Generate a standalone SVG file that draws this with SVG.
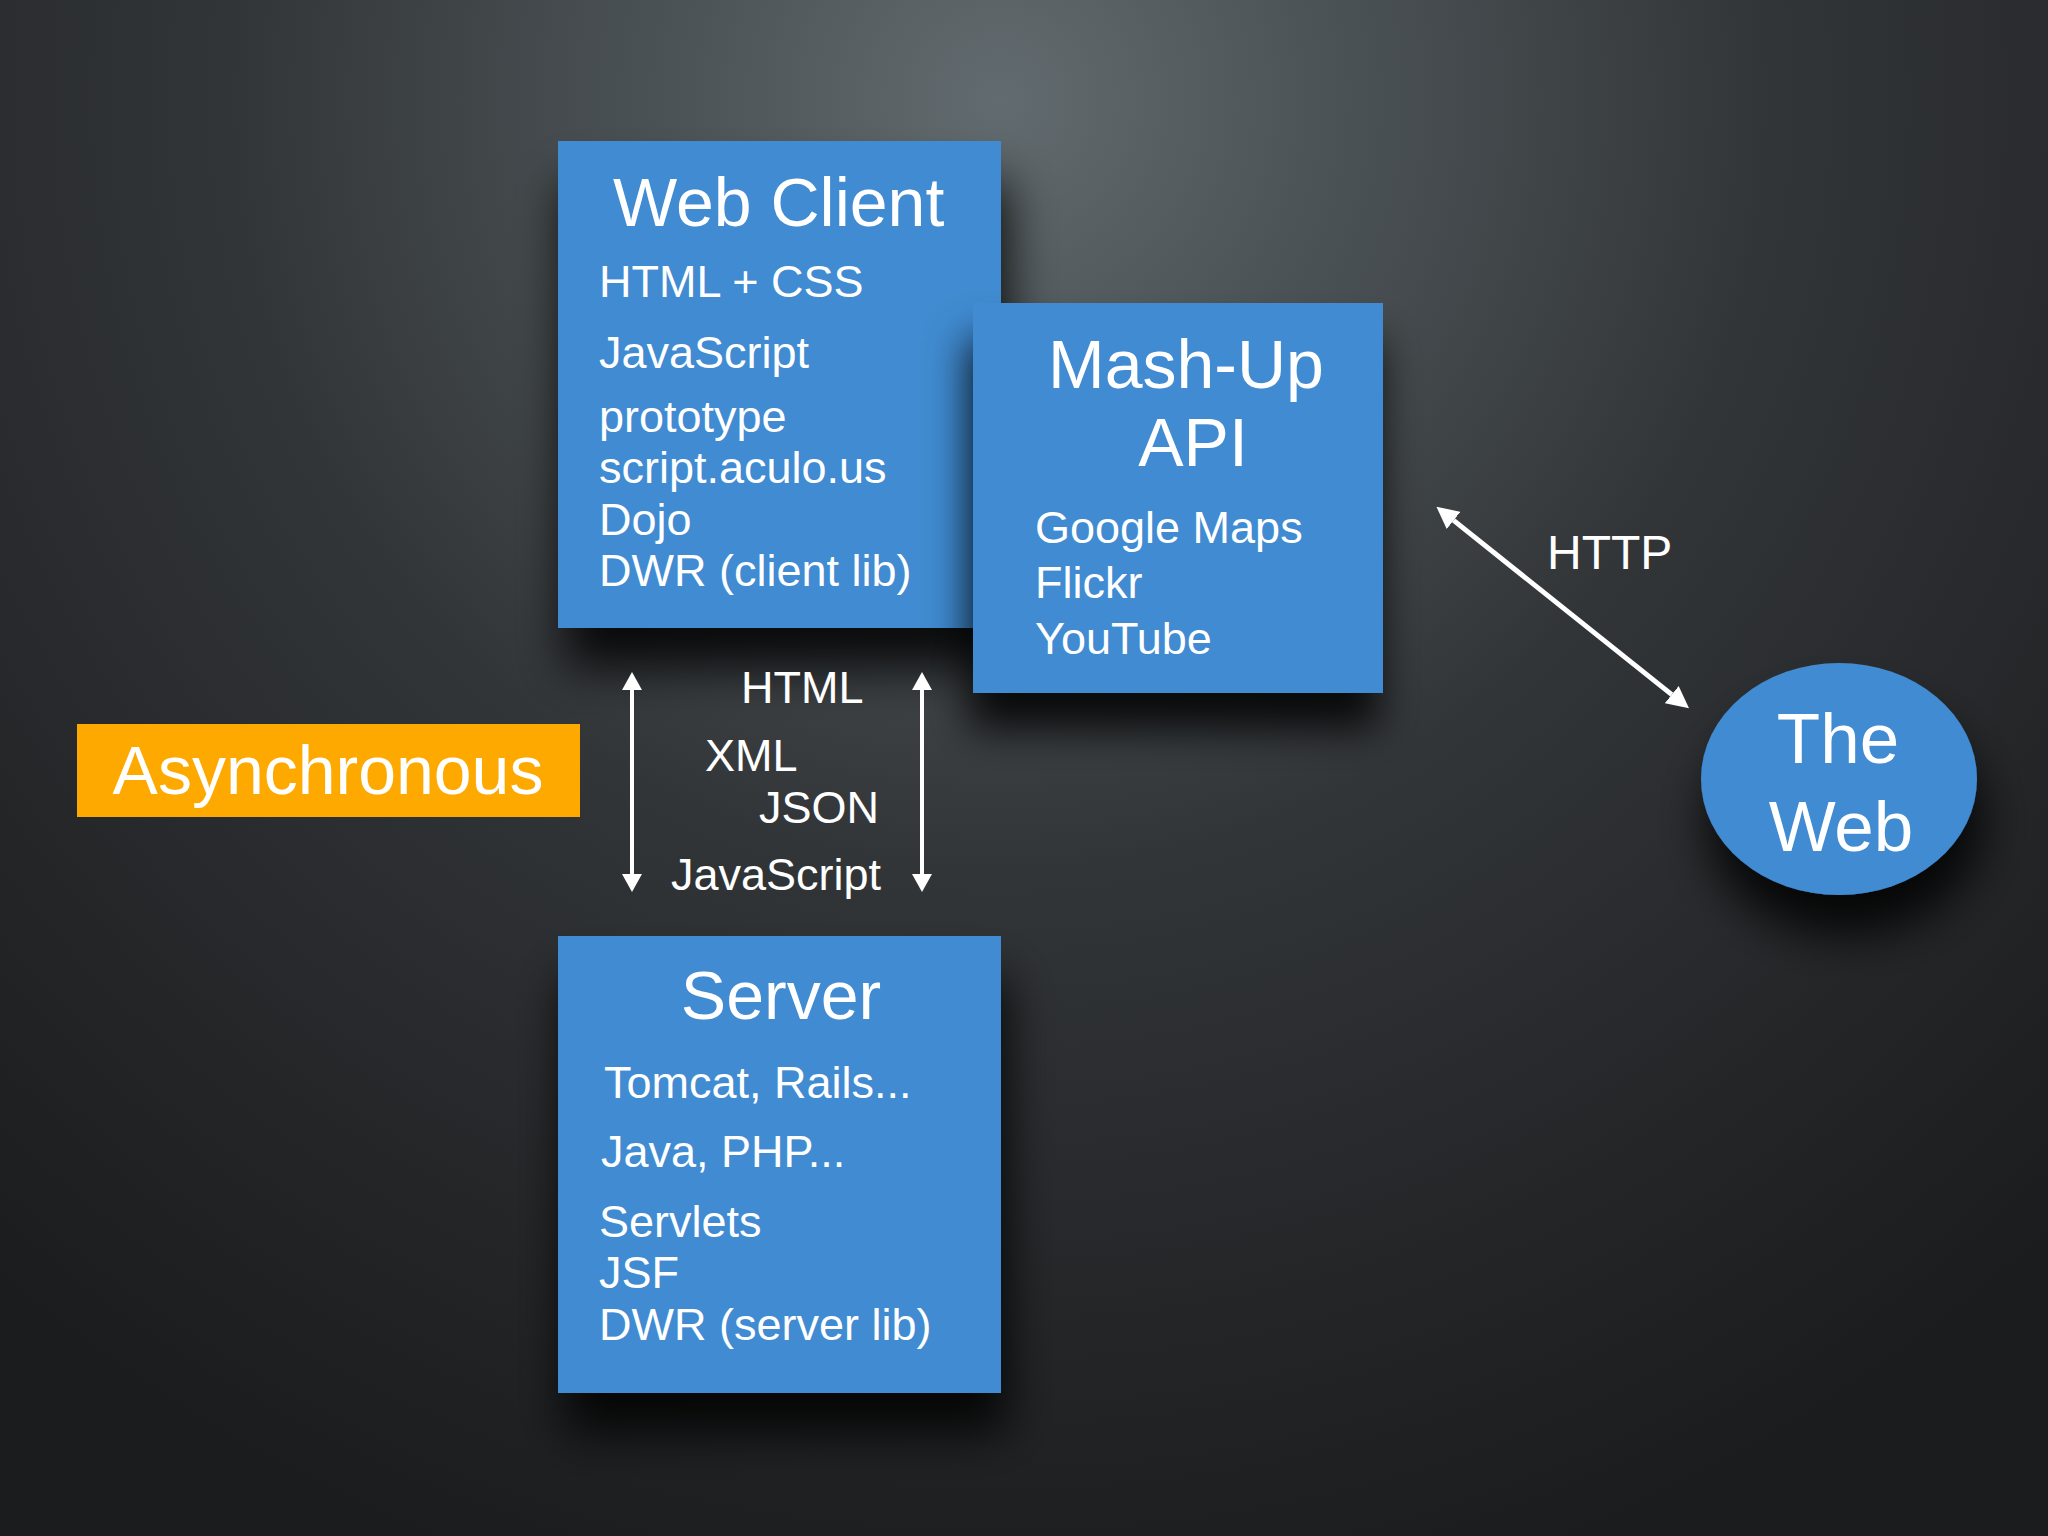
<svg xmlns="http://www.w3.org/2000/svg" width="2048" height="1536" viewBox="0 0 2048 1536">
  <defs>
    <radialGradient id="bg" gradientUnits="userSpaceOnUse" cx="1000" cy="100" r="1550">
      <stop offset="0" stop-color="#626b6f"/>
      <stop offset="0.22" stop-color="#4b5255"/>
      <stop offset="0.5" stop-color="#323538"/>
      <stop offset="0.8" stop-color="#232527"/>
      <stop offset="1" stop-color="#1b1c1d"/>
    </radialGradient>
    <filter id="shadow" x="-25%" y="-25%" width="160%" height="160%">
      <feDropShadow dx="6" dy="40" stdDeviation="24" flood-color="#000" flood-opacity="0.85"/>
    </filter>
    <filter id="shadowL" x="-25%" y="-25%" width="160%" height="160%">
      <feDropShadow dx="-4" dy="36" stdDeviation="20" flood-color="#000" flood-opacity="0.85"/>
    </filter>
    <marker id="ah" viewBox="0 0 18 20" refX="0" refY="10" markerWidth="18" markerHeight="20" markerUnits="userSpaceOnUse" orient="auto-start-reverse">
      <path d="M0,0 L18,10 L0,20 z" fill="#ffffff"/>
    </marker>
    <marker id="ah2" viewBox="0 0 22 22" refX="0" refY="11" markerWidth="22" markerHeight="22" markerUnits="userSpaceOnUse" orient="auto-start-reverse">
      <path d="M0,0 L22,11 L0,22 z" fill="#ffffff"/>
    </marker>
    <style>
      text { font-family: "Liberation Sans", Arial, Helvetica, sans-serif; fill: #ffffff; }
      .box { fill: #408bd1; }
      .title { font-size: 68px; }
      .item { font-size: 45px; }
      .conn { stroke: #ffffff; fill: none; }
    </style>
  </defs>

  <rect x="0" y="0" width="2048" height="1536" fill="url(#bg)"/>

  <g id="web-client">
    <rect class="box" x="558" y="141" width="443" height="487" filter="url(#shadow)"/>
    <text class="title" x="613" y="226">Web Client</text>
    <text class="item" x="599" y="297">HTML + CSS</text>
    <text class="item" x="599" y="368">JavaScript</text>
    <text class="item" x="599" y="432">prototype</text>
    <text class="item" x="599" y="483">script.aculo.us</text>
    <text class="item" x="599" y="535">Dojo</text>
    <text class="item" x="599" y="586">DWR (client lib)</text>
  </g>

  <g id="mashup-api">
    <rect class="box" x="973" y="303" width="410" height="390" filter="url(#shadowL)"/>
    <text class="title" x="1186" y="388" text-anchor="middle">Mash-Up</text>
    <text class="title" x="1193" y="466" text-anchor="middle">API</text>
    <text class="item" x="1035" y="543">Google Maps</text>
    <text class="item" x="1035" y="598">Flickr</text>
    <text class="item" x="1035" y="654">YouTube</text>
  </g>

  <g id="server">
    <rect class="box" x="558" y="936" width="443" height="457" filter="url(#shadow)"/>
    <text class="title" x="781" y="1019" text-anchor="middle">Server</text>
    <text class="item" x="604" y="1098">Tomcat, Rails...</text>
    <text class="item" x="601" y="1167">Java, PHP...</text>
    <text class="item" x="599" y="1237">Servlets</text>
    <text class="item" x="599" y="1288">JSF</text>
    <text class="item" x="599" y="1340">DWR (server lib)</text>
  </g>

  <g id="asynchronous">
    <rect x="77" y="724" width="503" height="93" fill="#fea900"/>
    <text class="title" x="328" y="794" text-anchor="middle">Asynchronous</text>
  </g>

  <g id="the-web">
    <ellipse cx="1839" cy="779" rx="138" ry="116" class="box" filter="url(#shadow)"/>
    <text x="1838" y="763" text-anchor="middle" font-size="71">The</text>
    <text x="1841" y="851" text-anchor="middle" font-size="71">Web</text>
  </g>

  <g id="connectors">
    <line class="conn" x1="632" y1="690" x2="632" y2="874" stroke-width="4" marker-start="url(#ah)" marker-end="url(#ah)"/>
    <line class="conn" x1="922" y1="690" x2="922" y2="874" stroke-width="4" marker-start="url(#ah)" marker-end="url(#ah)"/>
    <line class="conn" x1="1453.6" y1="520.4" x2="1671.8" y2="694.6" stroke-width="5" marker-start="url(#ah2)" marker-end="url(#ah2)"/>
    <text class="item" x="741" y="703">HTML</text>
    <text class="item" x="705" y="771">XML</text>
    <text class="item" x="759" y="823">JSON</text>
    <text class="item" x="671" y="890">JavaScript</text>
    <text x="1547" y="569" font-size="48">HTTP</text>
  </g>
</svg>
